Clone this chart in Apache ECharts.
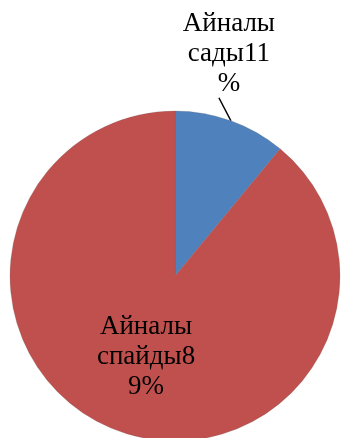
<!DOCTYPE html>
<html>
<head>
<meta charset="utf-8">
<script src="https://cdn.jsdelivr.net/npm/echarts@6/dist/echarts.min.js"></script>
<style>
  html, body { margin: 0; padding: 0; background: #fff; }
  #chart { width: 343px; height: 438px; }
</style>
</head>
<body>
<div id="chart"></div>
<script>
// Slice names and shares (percent)
const names = ['Айналы сады', 'Айналы спайды'];
const values = [11, 89];
const colors = ['#4F81BD', '#C0504D'];

const FONT_FAMILY = '"Liberation Serif", "Times New Roman", serif';
const FONT_SIZE = 27;
const WRAP_WIDTH = 100;

// Greedy wrap: words first, then characters when a word overflows the line
const measureCtx = document.createElement('canvas').getContext('2d');
measureCtx.font = FONT_SIZE + 'px ' + FONT_FAMILY;
function wrapText(text, maxW) {
  const lines = [];
  text.split('\n').forEach(function (para) {
    let line = '';
    para.split(' ').forEach(function (word) {
      const trial = line ? line + ' ' + word : word;
      if (measureCtx.measureText(trial).width <= maxW) { line = trial; return; }
      if (line) { lines.push(line); line = ''; }
      for (const ch of word) {
        if (measureCtx.measureText(line + ch).width > maxW && line) { lines.push(line); line = ch; }
        else line += ch;
      }
    });
    if (line) lines.push(line);
  });
  return lines.join('\n');
}

const chart = echarts.init(document.getElementById('chart'));

chart.setOption({
  animation: false,
  series: [{
    type: 'pie',
    center: [175, 276],
    radius: [0, 165],
    startAngle: 90,
    clockwise: true,
    silent: true,
    itemStyle: { borderColor: 'rgba(90,90,90,0.35)', borderWidth: 0.6 },
    label: {
      fontFamily: FONT_FAMILY,
      fontSize: FONT_SIZE,
      lineHeight: 30,
      color: '#000',
      align: 'center',
      overflow: 'none',
      formatter: function (p) {
        return wrapText(p.name + p.value + '%', WRAP_WIDTH);
      }
    },
    labelLine: { show: true, length: 26, length2: 0, lineStyle: { color: '#000', width: 1.5 } },
    labelLayout: function (p) {
      if (p.dataIndex !== 0 || !p.labelLinePoints) return {};
      // Leader line leans up-left from the slice edge; the label sits on its end
      const p0 = p.labelLinePoints[0];
      const end = [p0[0] - 12, p0[1] - 23];
      return {
        x: end[0] + 10,
        y: end[1] + 1,
        align: 'center',
        verticalAlign: 'bottom',
        labelLinePoints: [p0, end, end]
      };
    },
    data: names.map(function (n, i) {
      const d = { name: n, value: values[i], itemStyle: { color: colors[i] } };
      if (i === 1) {
        d.label = { position: 'inside' };
        d.labelLine = { show: false };
      } else {
        d.label = { position: 'outside' };
      }
      return d;
    })
  }]
});
</script>
</body>
</html>
